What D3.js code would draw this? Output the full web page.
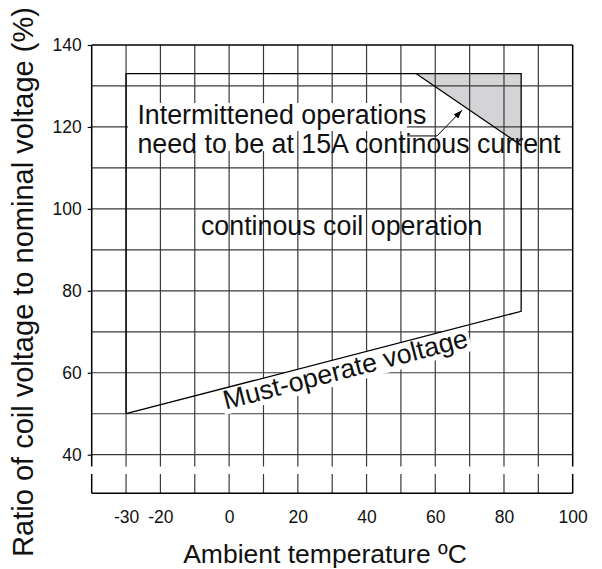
<!DOCTYPE html>
<html><head><meta charset="utf-8">
<script src="https://cdn.jsdelivr.net/npm/d3@7"></script>
<style>
body{margin:0;background:#fff}
svg{display:block}
text{font-family:"Liberation Sans",Arial,Helvetica,sans-serif;fill:#111}
</style>
</head><body>
<svg id="c" width="602" height="569"></svg>
<script>
// ---- data ----
const xGrid = [-30,-20,-10,0,10,20,30,40,50,60,70,80,90];
const xTickLabels = [-30,-20,0,20,40,60,80,100];
const yGrid = [130,120,110,100,90,80,70,60,50,40];
const yTickLabels = [140,120,100,80,60,40];
const xDomain = [-40,100];
const yDomain = [40,140];
const yFloor = 30.6;
const axisBreak = [35.3,37.1];
const regionTemps = [-30,85,85,-30,-30];
const regionVolts = [50,75,133,133,50];
const mustOperateTemps = [-30,85];
const mustOperateVolts = [50,75];
const intermittentTemps = [54.5,85,85];
const intermittentVolts = [133,133,115.5];
const arrowTemps = [51.8,60.5,67.8];
const arrowVolts = [117.8,117.8,124.1];
const labels = {
  intermittent: ["Intermittened operations","need to be at 15A continous current"],
  continuous: "continous coil operation",
  mustOperate: "Must-operate voltage",
  xTitle: "Ambient temperature ºC",
  yTitle: "Ratio of coil voltage to nominal voltage (%)"
};

// ---- scales ----
const x = d3.scaleLinear().domain(xDomain).range([91.7,572.7]);
const y = d3.scaleLinear().domain(yDomain).range([454.7,45]);
const svg = d3.select("#c");
const line = d3.line().x(d=>x(d[0])).y(d=>y(d[1]));
const GRID = "#3a3a3a";
const FS = 26.8;

svg.append("defs").append("marker")
  .attr("id","ah").attr("viewBox","0 0 10 10").attr("refX",10).attr("refY",5)
  .attr("markerWidth",9).attr("markerHeight",9).attr("markerUnits","userSpaceOnUse")
  .attr("orient","auto")
  .append("path").attr("d","M0,1.5 L10,5 L0,8.5 Z").attr("fill","#000");

// gray intermittent area
svg.append("path")
  .attr("d", line(d3.zip(intermittentTemps,intermittentVolts)) + "Z")
  .attr("fill","#d4d4d7").attr("stroke","none");

// horizontal gridlines
svg.append("g").selectAll("line").data(yGrid).join("line")
  .attr("x1",x(xDomain[0])).attr("x2",x(xDomain[1]))
  .attr("y1",d=>y(d)).attr("y2",d=>y(d))
  .attr("stroke",GRID).attr("stroke-width",1.2);

// vertical gridlines (with axis break)
const vg = svg.append("g");
xGrid.forEach(v=>{
  vg.append("line").attr("x1",x(v)).attr("x2",x(v)).attr("y1",y(yDomain[1])).attr("y2",y(axisBreak[1]))
    .attr("stroke",GRID).attr("stroke-width",1.2);
  vg.append("line").attr("x1",x(v)).attr("x2",x(v)).attr("y1",y(axisBreak[0])).attr("y2",y(yFloor))
    .attr("stroke",GRID).attr("stroke-width",1.2);
});

// white masks behind annotation text
svg.append("rect").attr("x",128).attr("y",103).attr("width",407-128).attr("height",28).attr("fill","#fff");
svg.append("rect").attr("x",128).attr("y",131).attr("width",296-128).attr("height",20).attr("fill","#fff");

// must-operate label (rotated along line) with mask
const p0 = [x(mustOperateTemps[0]), y(mustOperateVolts[0])];
const p1 = [x(mustOperateTemps[1]), y(mustOperateVolts[1])];
const ang = Math.atan2(p1[1]-p0[1], p1[0]-p0[0]) * 180/Math.PI;
const lt = -3.9;
const lx = x(lt);
const ly = y(mustOperateVolts[0] + (lt-mustOperateTemps[0])*(mustOperateVolts[1]-mustOperateVolts[0])/(mustOperateTemps[1]-mustOperateTemps[0]));
const mg = svg.append("g").attr("transform",`translate(${lx},${ly}) rotate(${ang})`);
const mr = mg.append("rect").attr("fill","#fff");
const mt = mg.append("text").attr("x",5).attr("y",21).attr("font-size",FS).text(labels.mustOperate);
const bb = mt.node().getBBox();
mr.attr("x",bb.x-2).attr("y",bb.y+3).attr("width",bb.width+4).attr("height",bb.height-4);

// frame
const fr = svg.append("g").attr("stroke","#000").attr("stroke-width",1.5);
fr.append("line").attr("x1",x(xDomain[0])).attr("x2",x(xDomain[1])).attr("y1",y(yDomain[1])).attr("y2",y(yDomain[1]));
fr.append("line").attr("x1",x(xDomain[0])).attr("x2",x(xDomain[1])).attr("y1",y(yFloor)).attr("y2",y(yFloor));
[xDomain[0],xDomain[1]].forEach(v=>{
  fr.append("line").attr("x1",x(v)).attr("x2",x(v)).attr("y1",y(yDomain[1])).attr("y2",y(axisBreak[1]));
  fr.append("line").attr("x1",x(v)).attr("x2",x(v)).attr("y1",y(axisBreak[0])).attr("y2",y(yFloor));
});

// operating region outline
svg.append("path").attr("d",line(d3.zip(regionTemps,regionVolts)))
  .attr("fill","none").attr("stroke","#000").attr("stroke-width",1.3);
// diagonal of intermittent area
svg.append("path").attr("d",line([[intermittentTemps[0],intermittentVolts[0]],[intermittentTemps[2],intermittentVolts[2]]]))
  .attr("fill","none").attr("stroke","#000").attr("stroke-width",1.3);
// arrow
svg.append("path").attr("d",line(d3.zip(arrowTemps,arrowVolts)))
  .attr("fill","none").attr("stroke","#000").attr("stroke-width",1).attr("marker-end","url(#ah)");

// axes
const ya = svg.append("g").attr("transform",`translate(${x(xDomain[0])},0)`)
  .call(d3.axisLeft(y).tickValues(yTickLabels).tickFormat(d=>String(d)).tickSize(4).tickPadding(6));
ya.select(".domain").remove();
ya.selectAll("line").attr("stroke","#000").attr("stroke-width",1.2);
ya.selectAll("text").attr("font-size",17.5).attr("font-family",null).attr("fill","#111");

const xa = svg.append("g").attr("transform",`translate(0,${y(yFloor)})`)
  .call(d3.axisBottom(x).tickValues(xTickLabels).tickFormat(d=>String(d)).tickSize(0).tickPadding(17));
xa.select(".domain").remove();
xa.selectAll("text").attr("font-size",17.5).attr("font-family",null).attr("fill","#111");

// annotation text
const it = svg.append("text").attr("x",x(-26.7)).attr("font-size",FS);
it.append("tspan").attr("x",x(-26.7)).attr("y",124.3).text(labels.intermittent[0]);
it.append("tspan").attr("x",x(-26.7)).attr("y",152.7).text(labels.intermittent[1]);
svg.append("text").attr("x",x(-8.2)).attr("y",235).attr("font-size",FS).text(labels.continuous);

// axis titles
svg.append("text").attr("x",325).attr("y",563).attr("text-anchor","middle").attr("font-size",26.5).text(labels.xTitle);
svg.append("text").attr("transform","translate(33,282) rotate(-90)").attr("text-anchor","middle").attr("font-size",29).text(labels.yTitle);
</script>
</body></html>
